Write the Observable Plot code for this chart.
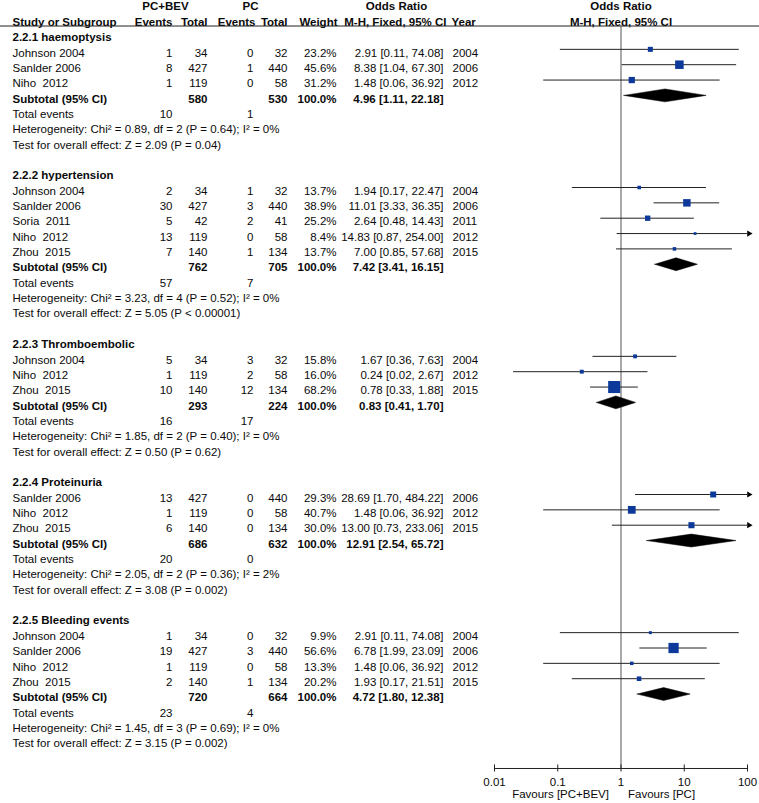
<!DOCTYPE html>
<html><head><meta charset="utf-8">
<script src="https://cdn.jsdelivr.net/npm/d3@7"></script>
<script src="https://cdn.jsdelivr.net/npm/@observablehq/plot@0.6"></script>
<style>
body{margin:0;background:#fff;}
svg text{white-space:pre;}
</style></head><body><div id="chart"></div>
<script>
// ---------- data ----------
const sectionTitles = ["2.2.1 haemoptysis", "2.2.2 hypertension", "2.2.3 Thromboembolic", "2.2.4 Proteinuria", "2.2.5 Bleeding events"];
const studySection = [0,0,0, 1,1,1,1,1, 2,2,2, 3,3,3, 4,4,4,4];
const studyNames = ["Johnson 2004","Sanlder 2006","Niho  2012",
  "Johnson 2004","Sanlder 2006","Soria  2011","Niho  2012","Zhou  2015",
  "Johnson 2004","Niho  2012","Zhou  2015",
  "Sanlder 2006","Niho  2012","Zhou  2015",
  "Johnson 2004","Sanlder 2006","Niho  2012","Zhou  2015"];
const eventsBev = [1,8,1, 2,30,5,13,7, 5,1,10, 13,1,6, 1,19,1,2];
const totalBev  = [34,427,119, 34,427,42,119,140, 34,119,140, 427,119,140, 34,427,119,140];
const eventsPc  = [0,1,0, 1,3,2,0,1, 3,2,12, 0,0,0, 0,3,0,1];
const totalPc   = [32,440,58, 32,440,41,58,134, 32,58,134, 440,58,134, 32,440,58,134];
const weights   = [23.2,45.6,31.2, 13.7,38.9,25.2,8.4,13.7, 15.8,16.0,68.2, 29.3,40.7,30.0, 9.9,56.6,13.3,20.2];
const orEst  = [2.91,8.38,1.48, 1.94,11.01,2.64,14.83,7.00, 1.67,0.24,0.78, 28.69,1.48,13.00, 2.91,6.78,1.48,1.93];
const orLow  = [0.11,1.04,0.06, 0.17,3.33,0.48,0.87,0.85, 0.36,0.02,0.33, 1.70,0.06,0.73, 0.11,1.99,0.06,0.17];
const orHigh = [74.08,67.30,36.92, 22.47,36.35,14.43,254.00,57.68, 7.63,2.67,1.88, 484.22,36.92,233.06, 74.08,23.09,36.92,21.51];
const years  = ["2004","2006","2012", "2004","2006","2011","2012","2015", "2004","2012","2015", "2006","2012","2015", "2004","2006","2012","2015"];

const subTotalBev = [580,762,293,686,720];
const subTotalPc  = [530,705,224,632,664];
const subEst  = [4.96,7.42,0.83,12.91,4.72];
const subLow  = [1.11,3.41,0.41,2.54,1.80];
const subHigh = [22.18,16.15,1.70,65.72,12.38];
const totalEventsBev = [10,57,16,20,23];
const totalEventsPc  = [1,7,17,0,4];
const hetChi = ["0.89","3.23","1.85","2.05","1.45"];
const hetDf  = [2,4,2,2,3];
const hetP   = ["0.64","0.52","0.40","0.36","0.69"];
const hetI2  = ["0%","0%","0%","2%","0%"];
const effectZ = ["2.09","5.05","0.50","3.08","3.15"];
const effectP = ["= 0.04","< 0.00001","= 0.62","= 0.002","= 0.002"];

const headerTop = ["PC+BEV","PC","Odds Ratio","Odds Ratio"];
const headerBottom = ["Study or Subgroup","Events","Total","Events","Total","Weight","M-H, Fixed, 95% CI","Year","M-H, Fixed, 95% CI"];
const axisTicks = [0.01,0.1,1,10,100];
const axisTickLabels = ["0.01","0.1","1","10","100"];
const favourLabels = ["Favours [PC+BEV]","Favours [PC]"];

// ---------- row layout (in row units) ----------
const f2 = v => v.toFixed(2);
const studies = studyNames.map((name,i)=>({
  name, s: studySection[i], eb: eventsBev[i], tb: totalBev[i], ep: eventsPc[i], tp: totalPc[i],
  w: weights[i], or: orEst[i], lo: orLow[i], hi: orHigh[i], year: years[i]
}));
const headerRows=[], studyRows=[], subRows=[], totRows=[], hetRows=[], testRows=[];
let u = 0;
sectionTitles.forEach((t,s)=>{
  headerRows.push({u, t});
  const list = studies.filter(d=>d.s===s);
  list.forEach((d,k)=>{ d.u = u+1+k; studyRows.push(d); });
  const b = u + list.length + 1;
  subRows.push({u:b, tb: subTotalBev[s], tp: subTotalPc[s], or: subEst[s], lo: subLow[s], hi: subHigh[s]});
  totRows.push({u:b+1, eb: totalEventsBev[s], ep: totalEventsPc[s]});
  hetRows.push({u:b+2, t:`Heterogeneity: Chi² = ${hetChi[s]}, df = ${hetDf[s]} (P = ${hetP[s]}); I² = ${hetI2[s]}`});
  testRows.push({u:b+3, t:`Test for overall effect: Z = ${effectZ[s]} (P ${effectP[s]})`});
  u = b + 5;
});
const diamondPts = [];
subRows.forEach((d,i)=>{
  const h = 0.42;
  [[d.lo,d.u],[d.or,d.u-h],[d.hi,d.u],[d.or,d.u+h],[d.lo,d.u]].forEach(([x,y])=>diamondPts.push({g:i,x,y}));
});
const arrowRows = studyRows.filter(d=>d.hi>100);
const uLine = -0.52, uAxis = 47.85, uFav = 49.3;

const FS = 11.5;
const INK = "#0a0a0a";
const T = (data, text, dx, anchor="end", bold=false, extra={}) => Plot.text(data, Object.assign({
  y: "u", text, frameAnchor: "left", dx, dy: 3.5, textAnchor: anchor,
  fontWeight: bold ? "bold" : "normal", fontSize: FS, fill: INK
}, extra));
const H = (row, i, dx, anchor) => Plot.text([row===0?headerTop[i]:headerBottom[i]], {
  y: () => row===0 ? -2 : -1, text: d=>d, frameAnchor:"left", dx, dy:3.5, textAnchor: anchor,
  fontWeight:"bold", fontSize: FS, fill: INK});
const HX = (row, i) => Plot.text([row===0?headerTop[i]:headerBottom[i]], {
  x: () => 1, y: () => row===0 ? -2 : -1, text: d=>d, dy:3.5, textAnchor:"middle",
  fontWeight:"bold", fontSize: FS, fill: INK});

const chart = Plot.plot({
  width: 759, height: 803,
  marginLeft: 0, marginRight: 0, marginTop: 0, marginBottom: 35,
  style: {fontFamily: "'Liberation Sans', Arial, sans-serif", fontSize: "11.5px", background: "#fff", overflow: "visible"},
  x: {type: "log", domain: [0.01, 100], range: [494, 747], axis: null},
  y: {type: "linear", domain: [0, 1], range: [33.5, 48.85], axis: null},
  r: {type: "linear", domain: [0, 100], range: [0.8, 9.6]},
  marks: [
    // header
    H(0,0,165,"middle"), H(0,1,250,"middle"), H(0,2,396,"middle"), HX(0,3),
    H(1,0,12,"start"), H(1,1,172,"end"), H(1,2,207,"end"), H(1,3,255,"end"), H(1,4,287,"end"),
    H(1,5,337,"end"), H(1,6,446,"end"), H(1,7,451,"start"), HX(1,8),
    Plot.ruleY([uLine], {stroke: "#222", strokeWidth: 1}),
    // null line
    Plot.ruleX([1], {y1: uLine, y2: uAxis, stroke: "#555", strokeWidth: 1}),
    // section titles
    T(headerRows, "t", 12, "start", true),
    // studies
    T(studyRows, "name", 12, "start"),
    T(studyRows, d=>String(d.eb), 172), T(studyRows, d=>String(d.tb), 207),
    T(studyRows, d=>String(d.ep), 253), T(studyRows, d=>String(d.tp), 287),
    T(studyRows, d=>d.w.toFixed(1)+"%", 336),
    T(studyRows, d=>`${f2(d.or)} [${f2(d.lo)}, ${f2(d.hi)}]`, 443),
    T(studyRows, d=>d.year, 452, "start"),
    // subtotals
    T(subRows, ()=>"Subtotal (95% CI)", 12, "start", true),
    T(subRows, d=>String(d.tb), 207, "end", true), T(subRows, d=>String(d.tp), 287, "end", true),
    T(subRows, ()=>"100.0%", 336, "end", true),
    T(subRows, d=>`${f2(d.or)} [${f2(d.lo)}, ${f2(d.hi)}]`, 443, "end", true),
    T(totRows, ()=>"Total events", 12, "start"),
    T(totRows, d=>String(d.eb), 172), T(totRows, d=>String(d.ep), 253),
    T(hetRows, "t", 12, "start"),
    T(testRows, "t", 12, "start"),
    // forest
    Plot.ruleY(studyRows, {y: "u", x1: d=>Math.max(d.lo, 0.01), x2: d=>Math.min(d.hi, 100), stroke: "#222", strokeWidth: 1}),
    Plot.dot(arrowRows, {x: ()=>100, y: "u", symbol: "triangle", rotate: 90, r: 2.3, fill: "#000", stroke: "none", dx: 1.5}),
    Plot.dot(studyRows, {x: "or", y: "u", r: "w", symbol: "square", fill: "#0d3a9a", stroke: "none"}),
    Plot.line(diamondPts, {x: "x", y: "y", z: "g", fill: "#000", stroke: "#000", strokeWidth: 0.5}),
    // axis
    Plot.ruleY([uAxis], {x1: 0.01, x2: 100, stroke: "#222", strokeWidth: 1}),
    Plot.ruleX(axisTicks, {x: d=>d, y1: uAxis-0.23, y2: uAxis+0.23, stroke: "#222", strokeWidth: 1}),
    Plot.axisX({anchor: "bottom", ticks: axisTicks, tickFormat: d => axisTickLabels[axisTicks.indexOf(d)],
      tickSize: 0, tickPadding: 9, fontSize: FS, label: null, fill: INK}),
    Plot.text([favourLabels[0]], {x: ()=>1, y: ()=>uFav, text: d=>d, dy: 3.5, dx: -12, textAnchor: "end", fontSize: FS, fill: INK}),
    Plot.text([favourLabels[1]], {x: ()=>1, y: ()=>uFav, text: d=>d, dy: 3.5, dx: 7, textAnchor: "start", fontSize: FS, fill: INK})
  ]
});
document.getElementById("chart").appendChild(chart);
</script></body></html>
